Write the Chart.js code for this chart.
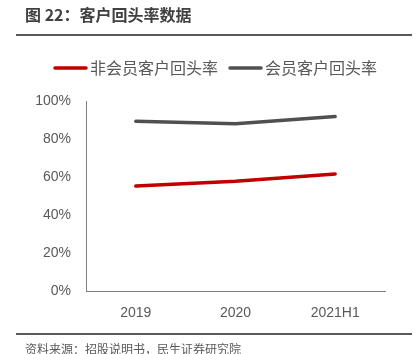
<!DOCTYPE html>
<html>
<head>
<meta charset="utf-8">
<script src="https://cdn.jsdelivr.net/npm/chart.js@4/dist/chart.umd.min.js"></script>
<style>
  html, body { margin: 0; padding: 0; background: #fff; }
  canvas { display: block; }
</style>
</head>
<body>
<canvas id="chart" width="416" height="354"></canvas>
<script>
const categories = ['2019', '2020', '2021H1'];
const seriesNames = ['非会员客户回头率', '会员客户回头率'];
const nonMember = [55.2, 57.8, 61.6];
const member = [89.3, 88.0, 91.8];
const yTicks = [0, 20, 40, 60, 80, 100];

const titleText = '图 22：客户回头率数据';
const sourceText = '资料来源：招股说明书，民生证券研究院';

const cjk = '"Noto Sans CJK SC", "Liberation Sans", sans-serif';
const latin = '"Liberation Sans", "Noto Sans CJK SC", sans-serif';

// title, rules, legend and source note around the chart
const frame = {
    id: 'frame',
    afterDraw(chart) {
        const ctx = chart.ctx;
        ctx.save();
        ctx.fillStyle = '#404040';
        ctx.font = 'bold 16px ' + cjk;
        ctx.textBaseline = 'middle';
        ctx.fillText(titleText, 25, 15);
        ctx.strokeStyle = '#595959';
        ctx.lineWidth = 2;
        ctx.beginPath();
        ctx.moveTo(16, 35); ctx.lineTo(412, 35);
        ctx.moveTo(16, 334); ctx.lineTo(412, 334);
        ctx.stroke();

        // legend
        const legendX = [54, 229];
        ctx.font = '16px ' + cjk;
        ctx.lineCap = 'round';
        chart.data.datasets.forEach((ds, i) => {
            const x = legendX[i];
            ctx.strokeStyle = ds.borderColor;
            ctx.lineWidth = 3.5;
            ctx.beginPath();
            ctx.moveTo(x + 1, 68); ctx.lineTo(x + 32, 68);
            ctx.stroke();
            ctx.fillStyle = '#595959';
            ctx.fillText(ds.label, x + 36, 68);
        });

        ctx.font = '12px ' + cjk;
        ctx.fillText(sourceText, 25, 349);
        ctx.restore();
    }
};

new Chart(document.getElementById('chart').getContext('2d'), {
    type: 'line',
    data: {
        labels: categories,
        datasets: [{
            label: seriesNames[0],
            data: nonMember,
            borderColor: '#C00000',
            backgroundColor: '#C00000',
            borderWidth: 3.5,
            pointRadius: 0,
            borderCapStyle: 'round',
            borderJoinStyle: 'round'
        }, {
            label: seriesNames[1],
            data: member,
            borderColor: '#505050',
            backgroundColor: '#505050',
            borderWidth: 3.5,
            pointRadius: 0,
            borderCapStyle: 'round',
            borderJoinStyle: 'round'
        }]
    },
    options: {
        responsive: false,
        animation: false,
        layout: { padding: { top: 101, left: 0, right: 31, bottom: 33 } },
        plugins: {
            legend: { display: false },
            tooltip: { enabled: false }
        },
        scales: {
            x: {
                offset: true,
                grid: { display: false, drawTicks: false },
                border: { color: '#7f7f7f', width: 1 },
                ticks: { color: '#595959', padding: 14, font: { family: latin, size: 14 } },
                afterFit(s) { s.height = 30; }
            },
            y: {
                min: 0,
                max: 100,
                afterBuildTicks(s) { s.ticks = yTicks.map(v => ({ value: v })); },
                grid: { display: false, drawTicks: false },
                border: { color: '#7f7f7f', width: 1 },
                ticks: {
                    color: '#595959',
                    padding: 15,
                    font: { family: latin, size: 14 },
                    callback: v => v + '%'
                },
                afterFit(s) { s.width = 86; }
            }
        }
    },
    plugins: [frame]
});
</script>
</body>
</html>
